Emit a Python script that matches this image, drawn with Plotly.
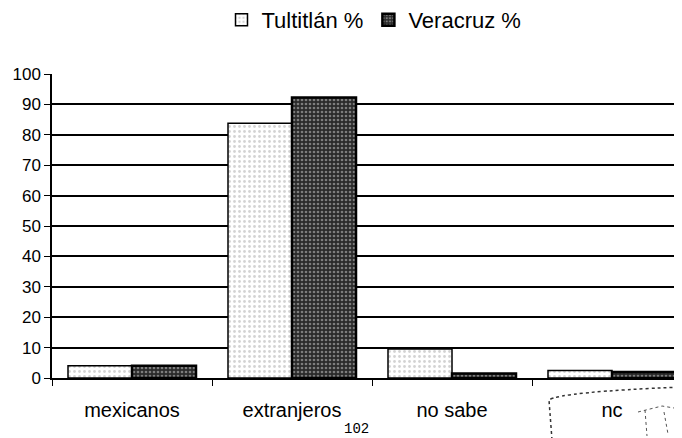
import plotly.graph_objects as go

categories = ["mexicanos", "extranjeros", "no sabe", "nc"]
tultitlan = [4, 83.8, 9.5, 2.5]
veracruz = [4, 92.3, 1.5, 2]
series_names = ["Tultitlán %", "Veracruz %"]
y_ticks = list(range(0, 101, 10))

# the page body adds an 8px offset; compensate in the margins
OFF = 8
W, H = 682, 438
PX0, PY0, PY1 = 52, 74, 378          # plot area in window pixels
PW = W + OFF - PX0
PH = PY1 - PY0
L, T, B = PX0 - OFF, PY0 - OFF, H + OFF - PY1


def px(x):
    return (x - PX0) / PW


def py(y):
    return (PY1 - y) / PH


fig = go.Figure()
fig.add_trace(go.Bar(
    x=categories, y=tultitlan, name=series_names[0],
    marker=dict(color="white", line=dict(color="black", width=1.5),
                pattern=dict(shape=".", fgcolor="#a8a8a8", bgcolor="white", size=5, solidity=0.25)),
))
fig.add_trace(go.Bar(
    x=categories, y=veracruz, name=series_names[1],
    marker=dict(color="#3a3a3a", line=dict(color="black", width=2.5),
                pattern=dict(shape=".", fgcolor="#d0d0d0", bgcolor="#2a2a2a", size=4, solidity=0.35)),
))

fig.update_layout(
    width=W, height=H,
    margin=dict(l=L, r=0, t=T, b=B, autoexpand=False),
    paper_bgcolor="white", plot_bgcolor="white",
    barmode="group", bargap=0.2, bargroupgap=0,
    font=dict(family="Arial, Liberation Sans, sans-serif", size=17, color="black"),
    showlegend=True,
    legend=dict(orientation="h", x=px(374), xanchor="center", y=py(20),
                yanchor="middle", font=dict(size=22), tracegroupgap=0,
                itemwidth=30, bgcolor="rgba(0,0,0,0)"),
    xaxis=dict(range=[-0.5, -0.5 + PW / 160], showline=True, linecolor="black", linewidth=1.5,
               ticks="outside", tickson="boundaries", ticklen=6, tickcolor="black",
               ticklabelstandoff=13,
               showgrid=False, tickfont=dict(size=20), automargin=False),
    yaxis=dict(range=[0, 100], tickvals=y_ticks, showline=True, linecolor="black",
               linewidth=1.5, ticks="outside", ticklen=6, tickcolor="black",
               showgrid=True, gridcolor="black", gridwidth=1.5, zeroline=False,
               tickfont=dict(size=17), automargin=False),
)

fig.add_annotation(text="102", x=px(356), y=py(429), xref="paper", yref="paper",
                   xanchor="center", yanchor="middle", showarrow=False,
                   font=dict(family="Courier New, Liberation Mono, monospace", size=14))

# faint scan stamp corner (bottom right)
fig.add_shape(type="path", xref="paper", yref="paper",
              path=f"M {px(552)} {py(440)} L {px(549)} {py(400)} Q {px(560)} {py(392)} {px(682)} {py(387)}",
              line=dict(color="#333", width=1.5, dash="dot"))
fig.add_shape(type="path", xref="paper", yref="paper",
              path=f"M {px(638)} {py(412)} L {px(662)} {py(406)} L {px(680)} {py(409)} "
                   f"M {px(645)} {py(410)} L {px(647)} {py(436)} M {px(664)} {py(412)} L {px(668)} {py(434)}",
              line=dict(color="#555", width=1, dash="dot"))

fig.write_html("out.html")
